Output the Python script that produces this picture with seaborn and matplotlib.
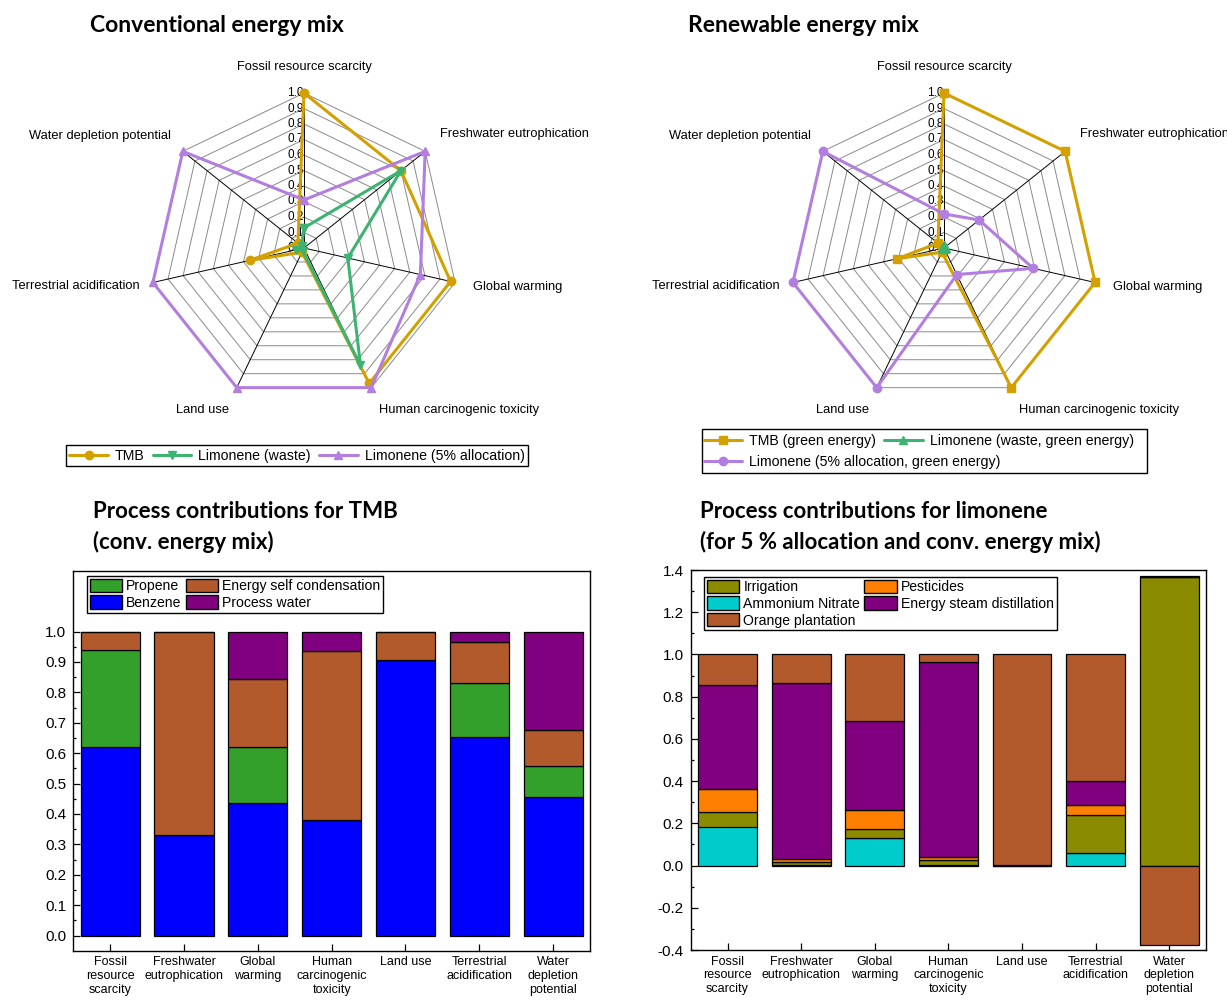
import numpy as np
import pandas as pd
import matplotlib
matplotlib.use("Agg")
import matplotlib.pyplot as plt
from matplotlib.patches import Patch, Rectangle
import seaborn as sns

# ---------------------------------------------------------------- data
impact_axes = [
    "Fossil resource scarcity",
    "Freshwater eutrophication",
    "Global warming",
    "Human carcinogenic toxicity",
    "Land use",
    "Terrestrial acidification",
    "Water depletion potential",
]

# normalised impacts, conventional energy mix
conv_tmb = [1.00, 0.80, 0.97, 0.97, 0.03, 0.36, 0.05]
conv_lim_waste = [0.13, 0.80, 0.29, 0.84, 0.02, 0.05, 0.02]
conv_lim_alloc = [0.31, 1.00, 0.77, 1.00, 1.00, 1.00, 1.00]

# normalised impacts, renewable energy mix
ren_tmb = [1.00, 1.00, 1.00, 1.00, 0.03, 0.31, 0.05]
ren_lim_waste = [0.02, 0.01, 0.01, 0.01, 0.01, 0.01, 0.01]
ren_lim_alloc = [0.22, 0.29, 0.59, 0.19, 1.00, 1.00, 1.00]

bar_categories = [
    "Fossil\nresource\nscarcity",
    "Freshwater\neutrophication",
    "Global\nwarming",
    "Human\ncarcinogenic\ntoxicity",
    "Land use",
    "Terrestrial\nacidification",
    "Water\ndepletion\npotential",
]

# TMB process contributions (stacked bottom to top)
tmb_benzene = [0.620, 0.330, 0.436, 0.379, 0.907, 0.652, 0.454]
tmb_propene = [0.318, 0.000, 0.185, 0.000, 0.000, 0.178, 0.104]
tmb_energy = [0.062, 0.667, 0.224, 0.558, 0.093, 0.134, 0.118]
tmb_water = [0.000, 0.003, 0.155, 0.063, 0.000, 0.036, 0.324]

# limonene process contributions (stacked bottom to top)
lim_ammonium = [0.185, 0.002, 0.129, 0.004, 0.000, 0.059, 0.000]
lim_irrigation = [0.068, 0.016, 0.043, 0.022, 0.002, 0.179, 1.365]
lim_pesticides = [0.110, 0.014, 0.089, 0.015, 0.001, 0.047, 0.000]
lim_energy = [0.491, 0.832, 0.424, 0.921, 0.002, 0.117, 0.008]
lim_orange = [0.146, 0.136, 0.315, 0.038, 0.995, 0.598, -0.375]

# ---------------------------------------------------------------- style
sns.set_theme(style="ticks", rc={
    "axes.edgecolor": "black",
    "xtick.color": "black",
    "ytick.color": "black",
    "text.color": "black",
    "axes.labelcolor": "black",
})
plt.rcParams["font.family"] = ["Liberation Sans", "DejaVu Sans"]
plt.rcParams["axes.unicode_minus"] = False

GOLD = "#D4A000"
GREEN = "#3CB371"
LILAC = "#B27FE0"

W, H = 1227, 1001
fig = plt.figure(figsize=(W / 100, H / 100), dpi=100)


def fx(px):
    return px / W


def fy(py):
    return 1 - py / H


TITLE_FAMILY = ["Lato", "DejaVu Sans"]

angles = np.linspace(0, 2 * np.pi, len(impact_axes), endpoint=False)
closed = np.append(angles, angles[0])

# label placement around the heptagon: (ha, va, radius)
label_layout = [
    ("center", "center", 1.17),
    ("left", "bottom", 1.12),
    ("left", "center", 1.12),
    ("left", "top", 1.12),
    ("right", "top", 1.12),
    ("right", "center", 1.09),
    ("right", "bottom", 1.10),
]


def radar(cx, cy, series):
    rad = 155
    ax = fig.add_axes([fx(cx - rad), fy(cy + rad), 2 * rad / W, 2 * rad / H],
                      projection="polar")
    ax.set_theta_zero_location("N")
    ax.set_theta_direction(-1)
    ax.set_ylim(0, 1)
    ax.set_xticks([])
    ax.set_yticks([])
    ax.grid(False)
    ax.spines["polar"].set_visible(False)
    ax.patch.set_alpha(0)

    levels = np.round(np.arange(0.1, 1.01, 0.1), 1)
    for lvl in levels:
        ax.plot(closed, [lvl] * len(closed), color="#8a8a8a", lw=0.7, zorder=1)
    for a in angles:
        ax.plot([a, a], [0, 1], color="black", lw=0.7, zorder=1)
    for lvl in np.round(np.arange(0.0, 1.01, 0.1), 1):
        ax.text(0, lvl, f"{lvl:.1f}", ha="right", va="center",
                fontsize=8.5, zorder=2)
    for a, name, (ha, va, rr) in zip(angles, impact_axes, label_layout):
        ax.text(a, rr, name, ha=ha, va=va, fontsize=9.3, clip_on=False)

    handles = []
    for vals, color, marker, label in series:
        v = list(vals) + [vals[0]]
        h, = ax.plot(closed, v, color=color, lw=2.2, marker=marker, ms=6,
                     label=label, zorder=3, clip_on=False)
        handles.append(h)
    return ax, handles


# ---------------------------------------------------------------- radar charts
fig.text(fx(90), fy(25), "Conventional energy mix", ha="left", va="center",
         family=TITLE_FAMILY, weight="bold", fontsize=16.5)
fig.text(fx(688), fy(25), "Renewable energy mix", ha="left", va="center",
         family=TITLE_FAMILY, weight="bold", fontsize=16.5)

_, h_conv = radar(304, 248, [
    (conv_tmb, GOLD, "o", "TMB"),
    (conv_lim_waste, GREEN, "v", "Limonene (waste)"),
    (conv_lim_alloc, LILAC, "^", "Limonene (5% allocation)"),
])
_, h_ren = radar(944, 248, [
    (ren_tmb, GOLD, "s", "TMB (green energy)"),
    (ren_lim_waste, GREEN, "^", "Limonene (waste, green energy)"),
    (ren_lim_alloc, LILAC, "o", "Limonene (5% allocation, green energy)"),
])

base_kw = dict(fontsize=10.2, handlelength=2.7, handletextpad=0.5,
               columnspacing=0.6, borderpad=0.25, borderaxespad=0)
lg = fig.legend(handles=h_conv, ncol=3, loc="center",
                bbox_to_anchor=(fx(297), fy(455.5)), fancybox=False,
                edgecolor="black", framealpha=1, **base_kw)
lg.get_frame().set_linewidth(1.0)

fig.legend(handles=h_ren[:2], ncol=2, loc="upper left",
           bbox_to_anchor=(fx(700), fy(430)), frameon=False, **base_kw)
fig.legend(handles=h_ren[2:], ncol=1, loc="upper left",
           bbox_to_anchor=(fx(700), fy(451)), frameon=False, **base_kw)
fig.add_artist(Rectangle((fx(702), fy(473)), 445 / W, 44 / H,
                         transform=fig.transFigure, fill=False,
                         edgecolor="black", lw=1.0))


# ---------------------------------------------------------------- stacked bars
def stacked(ax, layers, colors):
    pos = np.zeros(len(bar_categories))
    neg = np.zeros(len(bar_categories))
    for vals, c in zip(layers, colors):
        vals = np.asarray(vals, dtype=float)
        bottom = np.where(vals >= 0, pos, neg)
        df = pd.DataFrame({"impact": bar_categories, "share": vals})
        sns.barplot(data=df, x="impact", y="share", color=c, saturation=1,
                    bottom=bottom, width=0.8, edgecolor="black", linewidth=0.9,
                    errorbar=None, ax=ax)
        pos += np.where(vals >= 0, vals, 0)
        neg += np.where(vals < 0, vals, 0)
    ax.set_xlim(-0.5, 6.5)
    ax.set_xlabel("")
    ax.set_ylabel("")
    for s in ax.spines.values():
        s.set_visible(True)
        s.set_color("black")
        s.set_linewidth(1.0)
    ax.tick_params(axis="both", which="major", direction="in", length=5,
                   width=0.9, top=False, right=False, bottom=True, left=True)
    ax.tick_params(axis="both", which="minor", direction="in", length=2.5,
                   width=0.9, top=False, right=False, left=True)
    ax.tick_params(axis="y", labelsize=11, pad=5)
    ax.tick_params(axis="x", labelsize=9, pad=4)


def bar_legend(ax, patches, anchor):
    leg = ax.legend(handles=patches, ncol=2, loc="upper left",
                    bbox_to_anchor=anchor, bbox_transform=fig.transFigure,
                    fontsize=10.1, fancybox=False, edgecolor="black",
                    framealpha=1, borderpad=0.2, labelspacing=0.15,
                    handlelength=2.3, handleheight=1.1, handletextpad=0.3,
                    columnspacing=0.3, borderaxespad=0)
    leg.get_frame().set_linewidth(1.0)


def two_line_title(x, lines):
    for txt, y in zip(lines, (512, 542)):
        fig.text(fx(x), fy(y), txt, ha="left", va="center",
                 family=TITLE_FAMILY, weight="bold", fontsize=16)


C_BLUE, C_PROP, C_BROWN, C_PURPLE = "#0000FF", "#33A02C", "#B35A2D", "#800080"
C_OLIVE, C_ORANGE, C_CYAN = "#8B8B00", "#FF8000", "#00CCCC"

# left: TMB
ax1 = fig.add_axes([fx(73.3), fy(950.7), (590 - 73.3) / W, (950.7 - 570.7) / H])
stacked(ax1, [tmb_benzene, tmb_propene, tmb_energy, tmb_water],
        [C_BLUE, C_PROP, C_BROWN, C_PURPLE])
ax1.set_ylim(-0.05, 1.2)
yt = np.round(np.arange(0, 1.01, 0.1), 2)
ax1.set_yticks(yt)
ax1.set_yticklabels([f"{v:.1f}" for v in yt])
ax1.set_yticks(np.round(np.arange(0.05, 1.0, 0.1), 2), minor=True)

bar_legend(ax1, [
    Patch(facecolor=C_PROP, edgecolor="black", lw=1, label="Propene"),
    Patch(facecolor=C_BLUE, edgecolor="black", lw=1, label="Benzene"),
    Patch(facecolor=C_BROWN, edgecolor="black", lw=1, label="Energy self condensation"),
    Patch(facecolor=C_PURPLE, edgecolor="black", lw=1, label="Process water"),
], (fx(87), fy(576)))

two_line_title(93, ["Process contributions for TMB", "(conv. energy mix)"])

# right: limonene
ax2 = fig.add_axes([fx(690.7), fy(950), (1206 - 690.7) / W, (950 - 570) / H])
stacked(ax2, [lim_ammonium, lim_irrigation, lim_pesticides, lim_energy, lim_orange],
        [C_CYAN, C_OLIVE, C_ORANGE, C_PURPLE, C_BROWN])
ax2.set_ylim(-0.4, 1.4)
yt2 = np.round(np.arange(-0.4, 1.41, 0.2), 2)
ax2.set_yticks(yt2)
ax2.set_yticklabels([f"{v:.1f}" for v in yt2])
ax2.set_yticks(np.round(np.arange(-0.3, 1.31, 0.2), 2), minor=True)

bar_legend(ax2, [
    Patch(facecolor=C_OLIVE, edgecolor="black", lw=1, label="Irrigation"),
    Patch(facecolor=C_CYAN, edgecolor="black", lw=1, label="Ammonium Nitrate"),
    Patch(facecolor=C_BROWN, edgecolor="black", lw=1, label="Orange plantation"),
    Patch(facecolor=C_ORANGE, edgecolor="black", lw=1, label="Pesticides"),
    Patch(facecolor=C_PURPLE, edgecolor="black", lw=1, label="Energy steam distillation"),
], (fx(704), fy(577)))

two_line_title(700, ["Process contributions for limonene",
                     "(for 5 % allocation and conv. energy mix)"])

fig.savefig("out.png", dpi=100)
